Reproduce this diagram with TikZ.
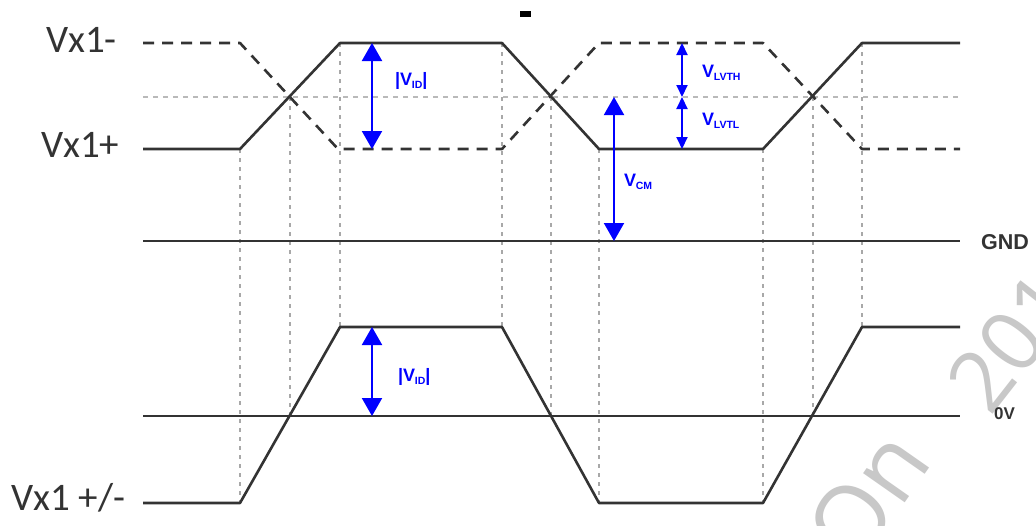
\documentclass[tikz,border=0pt]{standalone}
\usepackage{fontspec}
\setmainfont{Carlito}
\newfontfamily\lsans{Liberation Sans}
\newfontfamily\wmfont{Open Sans}
\usetikzlibrary{arrows.meta}
\definecolor{wave}{HTML}{333333}
\definecolor{grid}{HTML}{A8A8A8}
\definecolor{wm}{HTML}{C8C8C8}
\definecolor{lbl}{HTML}{0000FF}
\newcommand\vsub[1]{V\kern-0.3pt\raisebox{-2.5pt}{\fontsize{10.5}{10.5}\selectfont #1}}
\begin{document}
\begin{tikzpicture}[x=1pt,y=-1pt,
  solidwave/.style={draw=wave,line width=2.6pt,line join=round},
  dashwave/.style={draw=wave,line width=2.6pt,dash pattern=on 11pt off 8pt,line join=round},
  vgrid/.style={draw=grid,line width=1.3pt,dash pattern=on 4pt off 5pt},
  hgrid/.style={draw=grid!80,line width=1.5pt,dash pattern=on 5pt off 5pt},
  refline/.style={draw=wave,line width=2.6pt},
  bigarrow/.style={draw=lbl,line width=2pt,{Triangle[width=20pt,length=18pt]}-{Triangle[width=20pt,length=18pt]}},
  smallarrow/.style={draw=lbl,line width=2pt,{Triangle[width=11pt,length=12pt]}-{Triangle[width=11pt,length=12pt]}},
  siglabel/.style={inner sep=0pt,text=wave,font=\fontsize{39}{40}\selectfont,anchor=base west},
  bluelabel/.style={inner sep=0pt,text=lbl,font=\lsans\bfseries\fontsize{18}{18}\selectfont,anchor=west},
  reflabel/.style={inner sep=0pt,text=wave,font=\lsans\bfseries\fontsize{21.5}{22}\selectfont,anchor=west},
  wmark/.style={inner sep=0pt,text=wm,font=\wmfont\fontsize{95}{95}\selectfont}
]
\useasboundingbox (0,0) rectangle (1036,525);
\clip (0,0) rectangle (1036,525);
\fill[white] (0,0) rectangle (1036,525);

% watermark
\node[wmark,rotate=55] (wmOn) at (868,496) {On};
\node[wmark,font=\wmfont\fontsize{85}{85}\selectfont,rotate=52,anchor=base west] (wm20) at (990,418) {201};

% levels
\coordinate (tH0) at (143,43);  \coordinate (tHe) at (960,43);
\coordinate (tM0) at (143,97);  \coordinate (tMe) at (960,97);
\coordinate (tL0) at (143,149); \coordinate (tLe) at (960,149);
\coordinate (g0) at (143,241);  \coordinate (ge) at (960,241);
\coordinate (z0) at (143,416);  \coordinate (ze) at (960,416);

% grid
\draw[hgrid] (tM0) -- (tMe);
\draw[vgrid] (240,149) -- (240,503);
\draw[vgrid] (290,97) -- (290,416);
\draw[vgrid] (340,43) -- (340,327);
\draw[vgrid] (502,43) -- (502,327);
\draw[vgrid] (551,97) -- (551,416);
\draw[vgrid] (599,149) -- (599,503);
\draw[vgrid] (763,149) -- (763,503);
\draw[vgrid] (813,97) -- (813,416);
\draw[vgrid] (862,43) -- (862,327);

% reference lines
\draw[refline] (g0) -- (ge);
\draw[refline] (z0) -- (ze);

% top waveforms
\draw[dashwave] (tH0) -- (240,43) -- (338,149) -- (502,149) -- (599,43) -- (763,43) -- (862,149) -- (tLe);
\draw[solidwave] (tL0) -- (240,149) -- (340,43) -- (502,43) -- (599,149) -- (763,149) -- (862,43) -- (tHe);

% bottom waveform
\draw[solidwave] (143,503) -- (240,503) -- (340,327) -- (502,327) -- (599,503) -- (763,503) -- (862,327) -- (960,327);

% blue dimension arrows
\coordinate (vidT) at (372,43);  \coordinate (vidB) at (372,149);
\coordinate (lvH) at (682,43); \coordinate (lvM) at (682,97); \coordinate (lvL) at (682,149);
\coordinate (cmT) at (614,97); \coordinate (cmB) at (614,241);
\coordinate (vid2T) at (372,327); \coordinate (vid2B) at (372,416);
\draw[bigarrow] (vidT) -- (vidB);
\draw[smallarrow] (lvH) -- (lvM);
\draw[smallarrow] (lvM) -- (lvL);
\draw[bigarrow] (cmT) -- (cmB);
\draw[bigarrow] (vid2T) -- (vid2B);

% labels
\node[siglabel] (lminus) at (46,52) {Vx1-};
\node[siglabel] (lplus) at (41,157) {Vx1+};
\node[siglabel] (lpm) at (11,510) {Vx1 +/-};
\node[bluelabel] (lvid) at (395,81) {|\vsub{ID}|};
\node[bluelabel] (lvid2) at (398,377) {|\vsub{ID}|};
\node[bluelabel] (llvth) at (702,73) {\vsub{LVTH}};
\node[bluelabel] (llvtl) at (702,121) {\vsub{LVTL}};
\node[bluelabel] (lcm) at (624,182) {\vsub{CM}};
\node[reflabel] (lgnd) at (981,242) {GND};
\node[reflabel,font=\lsans\bfseries\fontsize{17}{17}\selectfont] (l0v) at (994,414) {0V};

% stray mark at top
\node[fill=black,inner sep=0pt,minimum width=11pt,minimum height=6pt] (topmark) at (525.5,14) {};
\end{tikzpicture}
\end{document}
